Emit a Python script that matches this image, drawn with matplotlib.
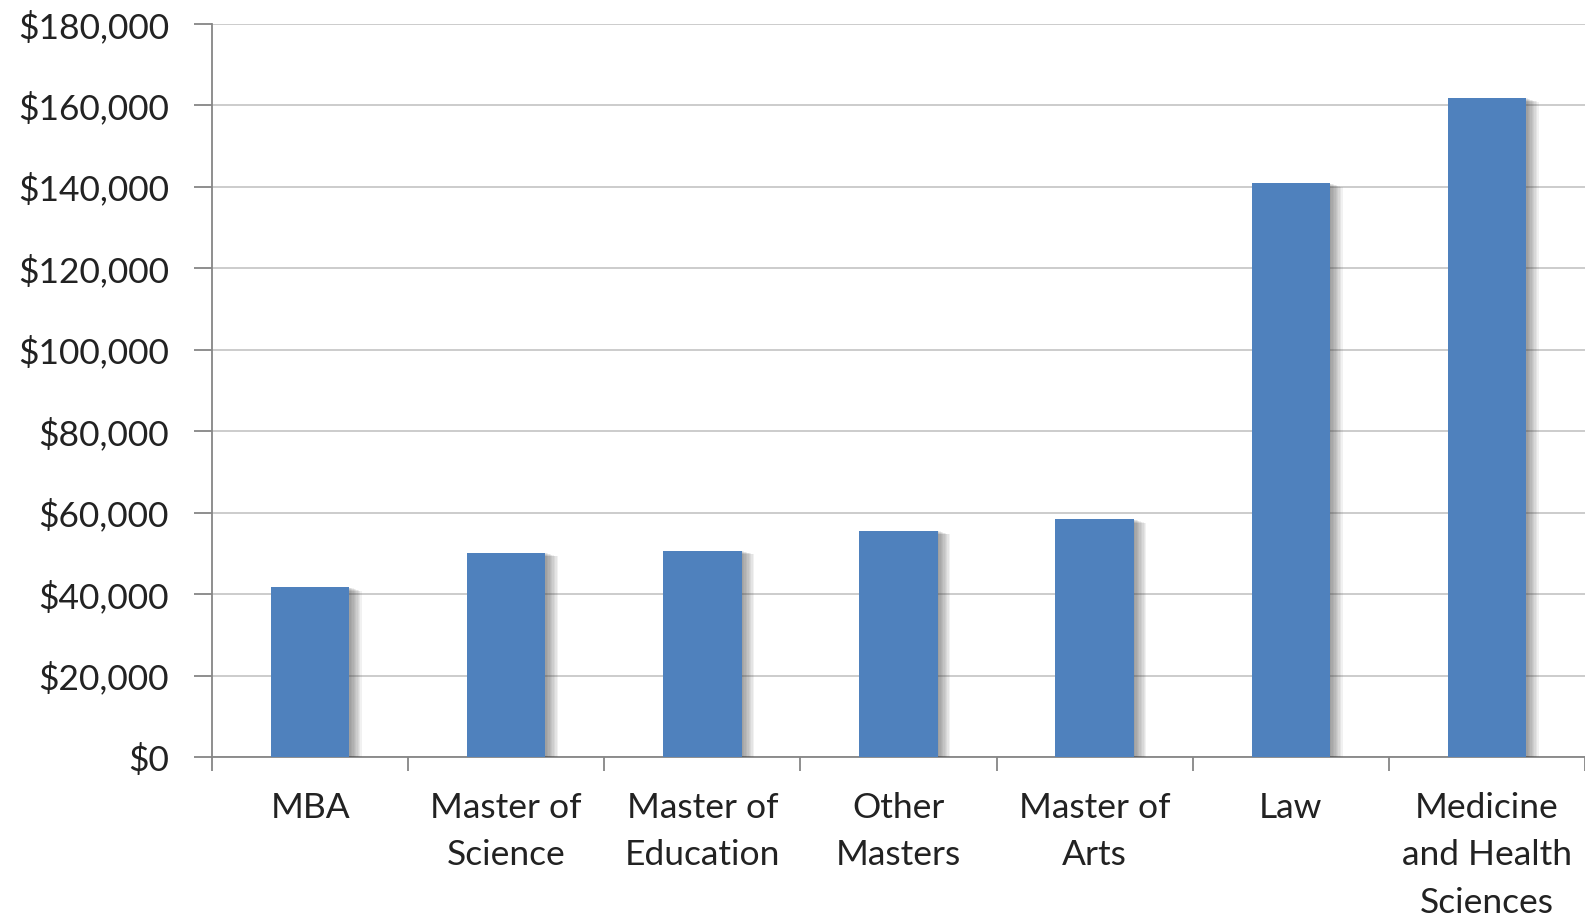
import matplotlib.pyplot as plt
import matplotlib.patheffects as pe
from matplotlib.ticker import FuncFormatter, FixedLocator
import numpy as np

degrees = ['MBA', 'Master of\nScience', 'Master of\nEducation', 'Other\nMasters',
           'Master of\nArts', 'Law', 'Medicine\nand Health\nSciences']
debt = [41700, 50200, 50700, 55600, 58400, 140900, 161800]

plt.rcParams['font.family'] = ['Lato', 'DejaVu Sans']

fig = plt.figure(figsize=(15.85, 9.21), dpi=100)
ax = fig.add_axes([0.1338, 0.178, 0.8662, 0.796])

x = np.arange(len(degrees))
bars = ax.bar(x, debt, width=0.4, color='#4F81BD', zorder=3)
# soft drop shadow like the Excel original: stack faint offset copies
shadow = [pe.SimplePatchShadow(offset=(d, -d * 0.3), shadow_rgbFace='#404040', alpha=0.07)
          for d in range(1, 10)]
for b in bars:
    b.set_path_effects(shadow + [pe.Normal()])

ax.set_xlim(-0.5, len(degrees) - 0.5)
ax.set_ylim(0, 180000)
ax.set_yticks(np.arange(0, 180001, 20000))
ax.yaxis.set_major_formatter(FuncFormatter(lambda v, p: f'${v:,.0f}'))
ax.grid(axis='y', color='#C8C8C8', linewidth=1.3, zorder=0)
ax.set_axisbelow(True)

ax.set_xticks(x)
ax.set_xticklabels(degrees, linespacing=1.6)
ax.xaxis.set_minor_locator(FixedLocator(np.arange(-0.5, len(degrees), 1.0)))
ax.tick_params(axis='x', which='major', length=0, pad=25, labelsize=25.5, colors='#222222')
ax.tick_params(axis='x', which='minor', length=10, width=1.3, color='#868686')
ax.tick_params(axis='y', length=13, width=1.3, color='#868686', pad=18, labelsize=25.5, labelcolor='#222222')

for s in ['top', 'right']:
    ax.spines[s].set_visible(False)
for s in ['left', 'bottom']:
    ax.spines[s].set_color('#868686')
    ax.spines[s].set_linewidth(1.3)

fig.savefig('out.png', dpi=100)
